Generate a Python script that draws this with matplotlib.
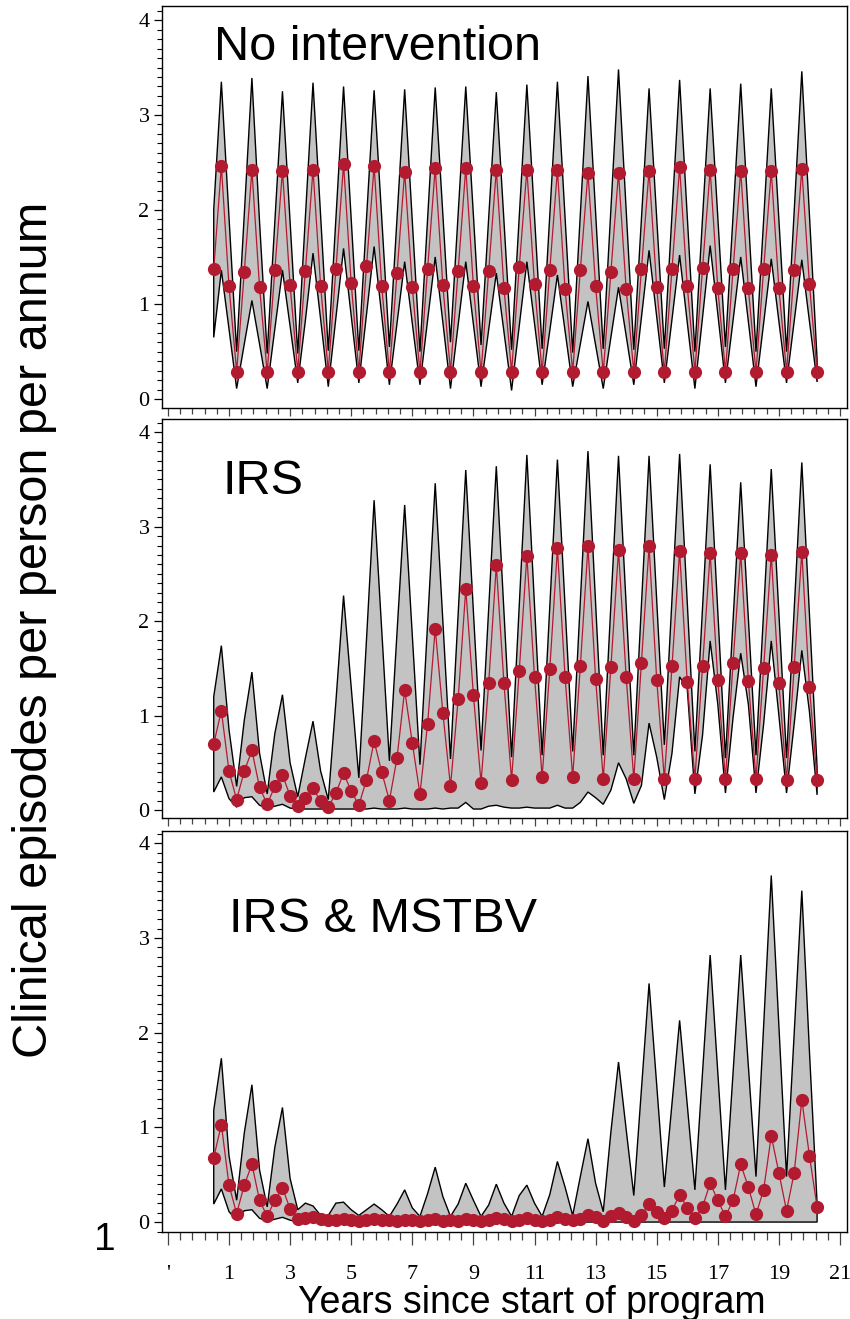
import numpy as np
import matplotlib
matplotlib.use("Agg")
import matplotlib.pyplot as plt
from matplotlib.ticker import FixedLocator, MultipleLocator

# ---------------- data (quarterly, t = 0.5 ... 20.25 years) ----------------
years = np.arange(0.5, 20.5, 0.25)

# each row: values at k+0.5, k+0.75, k+1.0, k+1.25
none_mean = [
    1.37, 2.46, 1.19, 0.29,  1.34, 2.42, 1.18, 0.28,  1.36, 2.41, 1.20, 0.29,
    1.35, 2.42, 1.19, 0.29,  1.37, 2.48, 1.22, 0.29,  1.40, 2.46, 1.19, 0.28,
    1.33, 2.40, 1.18, 0.28,  1.37, 2.44, 1.20, 0.29,  1.35, 2.44, 1.19, 0.28,
    1.35, 2.42, 1.17, 0.29,  1.39, 2.42, 1.21, 0.28,  1.36, 2.42, 1.16, 0.29,
    1.36, 2.39, 1.19, 0.28,  1.34, 2.39, 1.16, 0.29,  1.37, 2.41, 1.18, 0.28,
    1.37, 2.45, 1.19, 0.29,  1.38, 2.42, 1.17, 0.29,  1.37, 2.41, 1.17, 0.28,
    1.37, 2.41, 1.17, 0.29,  1.36, 2.43, 1.21, 0.29]
none_upper = [
    2.00, 3.35, 1.92, 0.50,  1.95, 3.39, 1.87, 0.48,  1.87, 3.25, 1.87, 0.48,
    1.92, 3.34, 1.93, 0.51,  1.91, 3.30, 1.90, 0.51,  1.90, 3.26, 1.91, 0.55,
    1.91, 3.27, 1.88, 0.50,  1.90, 3.29, 1.95, 0.60,  1.95, 3.30, 1.94, 0.57,
    1.91, 3.24, 1.88, 0.52,  1.92, 3.32, 1.93, 0.53,  1.94, 3.35, 1.92, 0.49,
    1.95, 3.41, 1.97, 0.53,  2.00, 3.48, 2.00, 0.52,  1.90, 3.28, 1.91, 0.53,
    1.95, 3.37, 1.93, 0.50,  1.91, 3.28, 1.92, 0.55,  1.94, 3.33, 1.92, 0.50,
    1.89, 3.28, 1.89, 0.50,  1.98, 3.46, 1.94, 0.42]
none_lower = [
    0.65, 1.36, 0.74, 0.11,  0.58, 1.04, 0.58, 0.11,  0.74, 1.36, 0.77, 0.17,
    0.83, 1.54, 0.84, 0.13,  0.86, 1.59, 0.88, 0.17,  0.89, 1.61, 0.88, 0.15,
    0.80, 1.45, 0.80, 0.15,  0.83, 1.50, 0.81, 0.11,  0.78, 1.45, 0.79, 0.13,
    0.73, 1.33, 0.71, 0.09,  0.77, 1.45, 0.80, 0.15,  0.72, 1.31, 0.72, 0.13,
    0.58, 1.03, 0.57, 0.11,  0.65, 1.18, 0.67, 0.15,  0.86, 1.57, 0.87, 0.17,
    0.84, 1.52, 0.81, 0.11,  0.86, 1.62, 0.90, 0.17,  0.83, 1.50, 0.82, 0.13,
    0.80, 1.48, 0.82, 0.17,  0.82, 1.47, 0.82, 0.18]

irs_mean = [
    0.70, 1.05, 0.41, 0.11,  0.41, 0.63, 0.24, 0.06,  0.25, 0.37, 0.15, 0.04,
    0.13, 0.23, 0.09, 0.03,  0.18, 0.39, 0.20, 0.05,  0.32, 0.73, 0.40, 0.10,
    0.55, 1.27, 0.71, 0.17,  0.91, 1.92, 1.03, 0.25,  1.17, 2.34, 1.22, 0.29,
    1.34, 2.59, 1.34, 0.32,  1.47, 2.69, 1.41, 0.35,  1.49, 2.77, 1.41, 0.35,
    1.52, 2.79, 1.39, 0.33,  1.51, 2.75, 1.41, 0.33,  1.56, 2.79, 1.38, 0.33,
    1.52, 2.74, 1.35, 0.33,  1.52, 2.72, 1.38, 0.33,  1.56, 2.72, 1.37, 0.33,
    1.50, 2.70, 1.34, 0.32,  1.51, 2.73, 1.30, 0.32]
irs_upper = [
    1.20, 1.74, 0.85, 0.25,  0.95, 1.46, 0.60, 0.17,  0.81, 1.22, 0.50, 0.14,
    0.55, 0.94, 0.41, 0.11,  1.15, 2.27, 1.30, 0.34,  1.80, 3.28, 1.90, 0.52,
    1.88, 3.23, 1.85, 0.48,  1.97, 3.46, 2.00, 0.54,  2.07, 3.60, 2.10, 0.63,
    2.13, 3.64, 2.10, 0.56,  2.16, 3.76, 2.17, 0.58,  2.15, 3.71, 2.16, 0.62,
    2.21, 3.80, 2.19, 0.58,  2.17, 3.75, 2.17, 0.58,  2.17, 3.75, 2.22, 0.69,
    2.23, 3.77, 2.20, 0.62,  2.14, 3.66, 2.10, 0.55,  2.01, 3.47, 2.03, 0.58,
    2.10, 3.61, 2.08, 0.55,  2.12, 3.68, 2.07, 0.45]
irs_lower = [
    0.19, 0.35, 0.12, 0.03,  0.13, 0.14, 0.05, 0.02,  0.04, 0.06, 0.02, 0.01,
    0.01, 0.01, 0.01, 0.01,  0.01, 0.01, 0.01, 0.01,  0.01, 0.02, 0.01, 0.01,
    0.01, 0.02, 0.01, 0.01,  0.01, 0.02, 0.01, 0.02,  0.02, 0.08, 0.01, 0.01,
    0.04, 0.05, 0.03, 0.02,  0.02, 0.03, 0.02, 0.02,  0.02, 0.05, 0.02, 0.02,
    0.08, 0.19, 0.13, 0.06,  0.21, 0.50, 0.33, 0.07,  0.26, 0.92, 0.56, 0.11,
    0.60, 1.41, 1.28, 0.17,  0.79, 1.79, 1.12, 0.18,  0.98, 1.66, 1.12, 0.18,
    0.91, 1.79, 1.00, 0.18,  0.91, 1.69, 1.04, 0.16]

mstbv_mean = [
    0.68, 1.03, 0.39, 0.09,  0.39, 0.61, 0.23, 0.06,  0.23, 0.36, 0.14, 0.03,
    0.04, 0.05, 0.03, 0.02,  0.02, 0.03, 0.02, 0.01,  0.02, 0.03, 0.02, 0.02,
    0.01, 0.02, 0.02, 0.01,  0.02, 0.03, 0.01, 0.02,  0.01, 0.03, 0.02, 0.01,
    0.02, 0.04, 0.03, 0.01,  0.02, 0.04, 0.02, 0.01,  0.02, 0.05, 0.03, 0.02,
    0.03, 0.07, 0.05, 0.01,  0.06, 0.10, 0.05, 0.01,  0.07, 0.19, 0.11, 0.04,
    0.12, 0.29, 0.15, 0.04,  0.16, 0.41, 0.23, 0.06,  0.23, 0.61, 0.37, 0.08,
    0.34, 0.91, 0.52, 0.12,  0.52, 1.29, 0.70, 0.16]
mstbv_upper = [
    1.18, 1.73, 0.70, 0.23,  0.94, 1.45, 0.55, 0.16,  0.79, 1.21, 0.46, 0.13,
    0.20, 0.17, 0.07, 0.07,  0.20, 0.21, 0.13, 0.07,  0.13, 0.19, 0.13, 0.06,
    0.19, 0.34, 0.15, 0.06,  0.30, 0.58, 0.27, 0.06,  0.19, 0.41, 0.23, 0.06,
    0.18, 0.40, 0.20, 0.06,  0.28, 0.39, 0.20, 0.06,  0.29, 0.64, 0.37, 0.07,
    0.48, 0.88, 0.41, 0.11,  0.95, 1.69, 0.98, 0.28,  1.40, 2.52, 1.45, 0.37,
    1.25, 2.13, 1.24, 0.34,  1.58, 2.82, 1.58, 0.34,  1.58, 2.82, 1.65, 0.48,
    2.07, 3.66, 2.07, 0.48,  1.99, 3.50, 1.80, 0.20]
mstbv_lower = [
    0.19, 0.35, 0.11, 0.02,  0.12, 0.13, 0.04, 0.01,  0.03, 0.05, 0.02, 0.00,
    0.00, 0.00, 0.00, 0.00,  0.00, 0.00, 0.00, 0.00,  0.00, 0.00, 0.00, 0.00,
    0.00, 0.00, 0.00, 0.00,  0.00, 0.00, 0.00, 0.00,  0.00, 0.00, 0.00, 0.00,
    0.00, 0.00, 0.00, 0.00,  0.00, 0.00, 0.00, 0.00,  0.00, 0.00, 0.00, 0.00,
    0.00, 0.00, 0.00, 0.00,  0.00, 0.00, 0.00, 0.00,  0.00, 0.00, 0.00, 0.00,
    0.00, 0.00, 0.00, 0.00,  0.00, 0.00, 0.00, 0.00,  0.00, 0.00, 0.00, 0.00,
    0.00, 0.00, 0.00, 0.00,  0.00, 0.00, 0.00, 0.00]

panel_titles = ["No intervention", "IRS", "IRS & MSTBV"]
x_major = [-1, 1, 3, 5, 7, 9, 11, 13, 15, 17, 19, 21]
x_major_labels = ["'", "1", "3", "5", "7", "9", "11", "13", "15", "17", "19", "21"]
y_major = [0, 1, 2, 3, 4]

# ---------------- styling ----------------
W, H = 850, 1319
fig = plt.figure(figsize=(W / 100, H / 100), dpi=100)
RED = "#b21a30"
GREY = "#c3c3c3"
SANS = ["Liberation Sans", "DejaVu Sans"]
SERIF = ["Liberation Serif", "DejaVu Serif"]

def fx(px):
    return px / W

def fy(py):
    return 1 - py / H

left_px, right_px = 162, 847
panels_px = [(6, 408), (419, 818), (831, 1232)]
ylims = [(-0.095, 4.15), (-0.085, 4.14), (-0.105, 4.13)]
xlim = ((162 - 198.45) / 30.55, (847 - 198.45) / 30.55)
title_pos = [(214, 60), (223, 494), (229, 932)]

series = [(none_mean, none_upper, none_lower),
          (irs_mean, irs_upper, irs_lower),
          (mstbv_mean, mstbv_upper, mstbv_lower)]

minor_x = np.arange(-1.0, 21.3, 0.4)

for i, ((top, bot), (mean, up, lo)) in enumerate(zip(panels_px, series)):
    ax = fig.add_axes([fx(left_px), fy(bot), fx(right_px - left_px), (bot - top) / H])
    up = np.asarray(up)
    lo = np.asarray(lo)
    ax.fill(np.r_[years, years[::-1]], np.r_[up, lo[::-1]],
            facecolor=GREY, edgecolor="black", linewidth=1.0, zorder=2)
    ax.plot(years, mean, color=RED, linewidth=0.9, marker="o", markersize=9.5,
            markeredgewidth=0, zorder=3)
    ax.set_xlim(*xlim)
    ax.set_ylim(*ylims[i])

    for s in ax.spines.values():
        s.set_linewidth(1.0)
        s.set_color("black")

    ax.yaxis.set_major_locator(FixedLocator(y_major))
    ax.yaxis.set_minor_locator(MultipleLocator(0.1))
    ax.set_yticklabels([str(v) for v in y_major], family=SERIF, fontsize=16)
    ax.tick_params(axis="y", which="major", direction="out", length=6, width=0.9, pad=3)
    ax.tick_params(axis="y", which="minor", direction="out", length=3.5, width=0.8)

    ax.xaxis.set_major_locator(FixedLocator(x_major))
    ax.xaxis.set_minor_locator(FixedLocator(minor_x))
    if i == 2:
        ax.set_xticklabels(x_major_labels, family=SERIF, fontsize=16)
        ax.tick_params(axis="x", which="major", direction="out", length=9, width=0.9,
                       pad=15, color="#444444")
        ax.tick_params(axis="x", which="minor", direction="out", length=5.5, width=0.9,
                       color="#444444")
    else:
        ax.set_xticklabels([])
        ax.tick_params(axis="x", which="major", direction="out", length=5.5, width=0.9,
                       color="#444444")
        ax.tick_params(axis="x", which="minor", direction="out", length=4, width=0.9,
                       color="#444444")

    tx, ty = title_pos[i]
    fig.text(fx(tx), fy(ty), panel_titles[i], family=SANS, fontsize=35,
             ha="left", va="baseline")

fig.text(fx(35), fy(630), "Clinical episodes per person per annum", family=SANS,
         fontsize=35, rotation=90, ha="center", va="center")
fig.text(fx(532), fy(1313), "Years since start of program", family=SANS,
         fontsize=27, ha="center", va="baseline")
fig.text(fx(105), fy(1250), "1", family=SANS, fontsize=28, ha="center", va="baseline")

fig.savefig("out.png", dpi=100)
